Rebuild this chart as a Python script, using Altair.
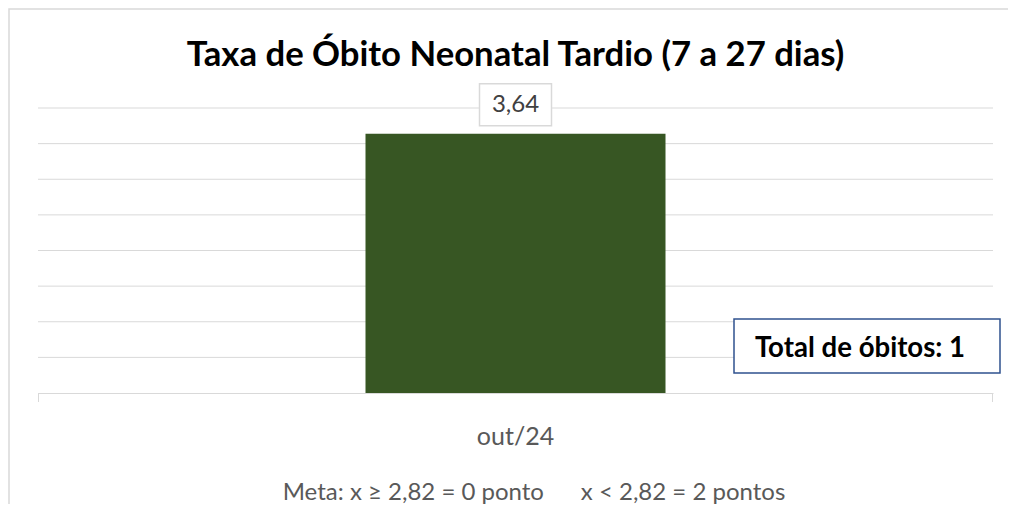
import altair as alt
import pandas as pd

# ---- data ----
months = ["out/24"]
rates = [3.64]
total_obitos = [1]
y_ticks = [0.5, 1, 1.5, 2, 2.5, 3, 3.5, 4]
title_text = "Taxa de Óbito Neonatal Tardio (7 a 27 dias)"
meta_text = "Meta: x ≥ 2,82 = 0 ponto" + "\u00a0" * 6 + "x < 2,82 = 2 pontos"

df = pd.DataFrame({
    "mes": months,
    "taxa": rates,
    "rotulo": [f"{v:.2f}".replace(".", ",") for v in rates],
})
grid_df = pd.DataFrame({"taxa": y_ticks})

W, H = 955, 285
FONT = "Lato"
BAR = "#375623"
GRID = "#d9d9d9"

y_scale = alt.Scale(domain=[0, 4], nice=False)

x_enc = alt.X("mes:N", sort=months,
              scale=alt.Scale(paddingInner=0, paddingOuter=0),
              axis=alt.Axis(title=None, grid=False,
                            domainColor=GRID, domainWidth=1, ticks=False,
                            labelFont=FONT, labelFontSize=25, labelColor="#595959",
                            labelBaseline="alphabetic", labelPadding=51, labelAngle=0))
y_enc = alt.Y("taxa:Q", scale=y_scale, axis=None)

# horizontal gridlines from the tick values
grid = alt.Chart(grid_df).mark_rule(color=GRID, strokeWidth=1).encode(
    y=alt.Y("taxa:Q", scale=y_scale, axis=None), x=alt.value(0), x2=alt.value(W))

base = alt.Chart(df)

bars = base.mark_bar(color=BAR, width=300).encode(x=x_enc, y=y_enc)

label_box = base.mark_bar(width=72, fill="white", stroke=GRID, strokeWidth=1.5,
                          yOffset=-50, y2Offset=-8).encode(
    x=x_enc, y=y_enc, y2="taxa:Q")

label_text = base.mark_text(font=FONT, fontSize=24, color="#404040",
                            baseline="middle", dy=-29).encode(
    x=x_enc, y=y_enc, text="rotulo:N")

# category-boundary tick marks below the axis line (Excel style)
edge_df = pd.DataFrame({"edge": ["left", "right"]})
edge_ticks = alt.Chart(edge_df).mark_rule(color=GRID, strokeWidth=1).encode(
    x=alt.X("edge:N", sort=["left", "right"], axis=None,
            scale=alt.Scale(type="point", padding=0, range=[0.5, W - 0.5])),
    y=alt.value(H), y2=alt.value(H + 9))

ann_df = pd.DataFrame({"t": [f"Total de óbitos: {total_obitos[0]}"]})
ann_box = alt.Chart(ann_df).mark_rect(fill="white", stroke="#2F528F", strokeWidth=1.5).encode(
    x=alt.value(696), x2=alt.value(962), y=alt.value(211), y2=alt.value(265))
ann_text = alt.Chart(ann_df).mark_text(font=FONT, fontSize=27.6, fontWeight="bold",
                                       color="#000000", baseline="alphabetic").encode(
    x=alt.value(822), y=alt.value(249), text="t:N")

title_df = pd.DataFrame({"t": [title_text]})
title = alt.Chart(title_df).mark_text(font=FONT, fontSize=34.7, fontWeight="bold",
                                      color="#000000", baseline="alphabetic").encode(
    x=alt.value(W / 2), y=alt.value(-42), text="t:N")

meta_df = pd.DataFrame({"t": [meta_text]})
meta = alt.Chart(meta_df).mark_text(font=FONT, fontSize=24, color="#595959",
                                    baseline="alphabetic").encode(
    x=alt.value(496), y=alt.value(392), text="t:N")

border = alt.Chart(title_df).mark_rect(fill=None, stroke="#d9d9d9", strokeWidth=1.5).encode(
    x=alt.value(-29), x2=alt.value(W + 60), y=alt.value(-99), y2=alt.value(H + 150))

main = alt.layer(grid, bars, label_box, label_text)
chart = alt.layer(border, main, edge_ticks, ann_box, ann_text, title, meta).resolve_scale(
    x="independent"
).properties(
    width=W, height=H,
    autosize=alt.AutoSizeParams(type="none"),
    padding={"left": 30, "top": 100, "right": 15, "bottom": 111},
).configure(background="white").configure_view(strokeWidth=0, stroke="transparent")

chart.save("out.html", embed_options={"renderer": "svg", "actions": False})
